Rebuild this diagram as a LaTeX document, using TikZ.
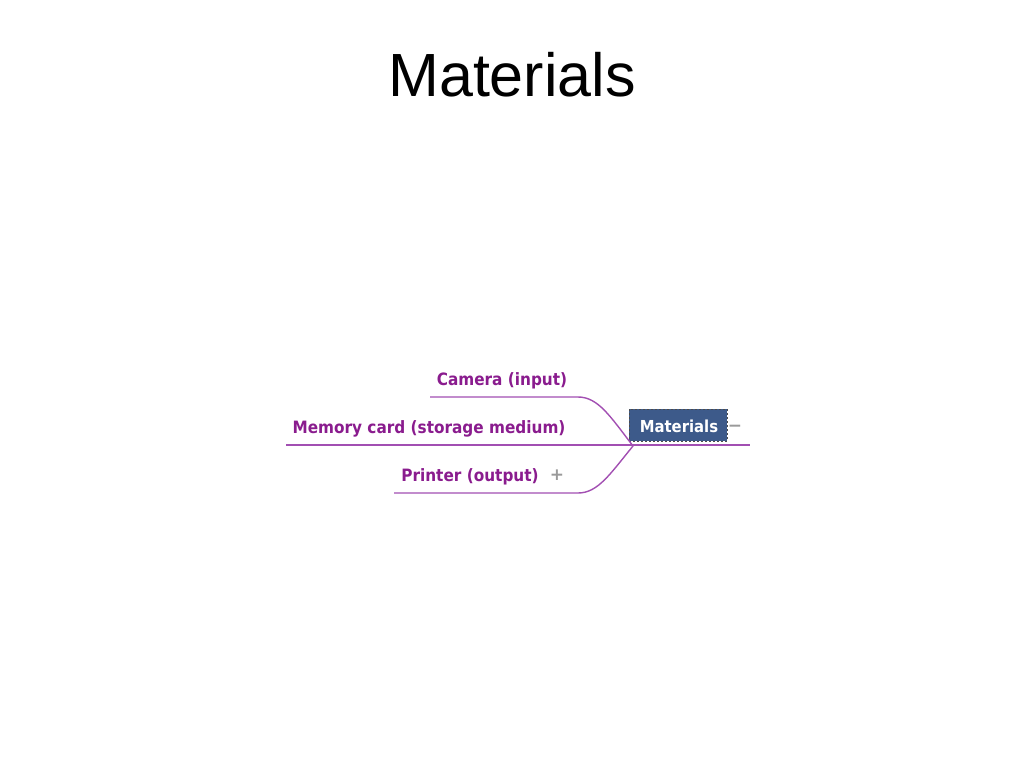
\documentclass[tikz,border=0pt]{standalone}
\usepackage{fontspec}
\setmainfont{Liberation Sans}
\newfontfamily\mapfont{DejaVu Sans}[FakeStretch=0.9]
\newfontfamily\signfont{DejaVu Sans}
\definecolor{mapline}{HTML}{A24FB2}
\definecolor{maptext}{HTML}{8A1C8E}
\definecolor{mapbox}{HTML}{3D5A8A}
\definecolor{mapsign}{HTML}{9A9A9A}

\begin{document}
\begin{tikzpicture}[x=1pt,y=-1pt]
	% page
	\useasboundingbox (0,0) rectangle (1024,768);

   \node[anchor=base] (title) at (512,96) {\fontsize{61}{61}\selectfont Materials};

   \node[draw=black!70,dashed,dash pattern=on 2pt off 2pt,fill=mapbox,minimum width=98pt,minimum height=32pt,inner sep=0pt] (mat) at (678,425) {};
   \node[anchor=base,text=white] (mat_t) at (679,432) {\mapfont\bfseries\fontsize{16.5}{16.5}\selectfont Materials};
   \node[text=mapsign,anchor=base] (mat_s) at (735,431) {\signfont\bfseries\fontsize{17}{17}\selectfont −};

   \coordinate (hub) at (633,446);

   \node[anchor=base,text=maptext] (b_1) at (502,385) {\mapfont\bfseries\fontsize{17}{17}\selectfont Camera (input)};
   \node[anchor=base,text=maptext] (b_2) at (429,433) {\mapfont\bfseries\fontsize{17}{17}\selectfont Memory card (storage medium)};
   \node[anchor=base,text=maptext] (b_3) at (470,481) {\mapfont\bfseries\fontsize{17}{17}\selectfont Printer (output)};
   \node[text=mapsign,anchor=base] (b_3s) at (557,480) {\signfont\bfseries\fontsize{17}{17}\selectfont +};

   \coordinate (l_1) at (430,397);
   \coordinate (l_2) at (286,445);
   \coordinate (l_3) at (394,493);
   \coordinate (r_2) at (750,445);

   \path[draw,mapline,line width=1.4pt] (l_1) -- (578,397) .. controls (598,397) and (610,416) .. (hub);
   \path[draw,mapline,line width=1.4pt] (l_2) -- (r_2);
   \path[draw,mapline,line width=1.4pt] (l_3) -- (578,493) .. controls (598,493) and (610,474) .. (hub);

   \end{tikzpicture}
\end{document}
